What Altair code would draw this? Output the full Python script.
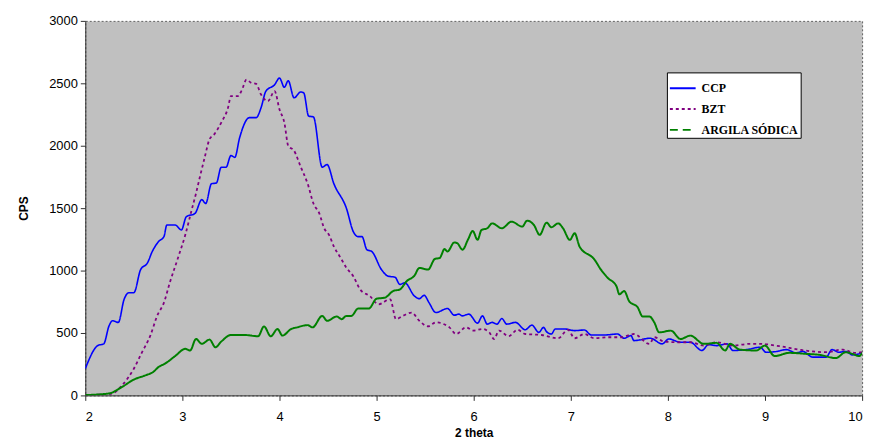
import altair as alt
import pandas as pd

SERIES = ["CCP", "BZT", "ARGILA SÓDICA"]
COLORS = ["#0000FF", "#800080", "#008000"]

ccp_x = [2.0, 2.13, 2.19, 2.245, 2.28, 2.34, 2.40, 2.45, 2.50, 2.57,
         2.64, 2.69, 2.755, 2.81, 2.84, 2.925, 2.99, 3.04, 3.13, 3.20,
         3.24, 3.30, 3.35, 3.40, 3.45, 3.50, 3.54, 3.59, 3.69, 3.76,
         3.81, 3.86, 3.95, 4.00, 4.05, 4.09, 4.15, 4.22, 4.25, 4.30,
         4.35, 4.44, 4.49, 4.56, 4.69, 4.76, 4.81, 4.85, 4.90, 4.95,
         5.05, 5.12, 5.19, 5.24, 5.29, 5.39, 5.44, 5.49, 5.54, 5.61,
         5.73, 5.80, 5.85, 5.88, 5.95, 6.04, 6.09, 6.14, 6.19, 6.24,
         6.29, 6.34, 6.43, 6.53, 6.60, 6.67, 6.72, 6.75, 6.80, 6.84,
         6.94, 7.04, 7.14, 7.21, 7.35, 7.48, 7.55, 7.62, 7.65, 7.82,
         7.94, 8.01, 8.13, 8.23, 8.35, 8.42, 8.50, 8.61, 8.67, 8.81,
         8.95, 9.01, 9.12, 9.22, 9.32, 9.39, 9.49, 9.63, 9.69, 9.76,
         9.83, 9.90, 10.0]
ccp_y = [214, 400, 413, 558, 598, 585, 770, 823, 823, 1008,
         1061, 1153, 1233, 1272, 1365, 1365, 1325, 1431, 1458, 1568,
         1537, 1696, 1701, 1828, 1828, 1921, 1907, 2066, 2225, 2225,
         2304, 2437, 2489, 2542, 2468, 2521, 2384, 2431, 2423, 2238,
         2230, 1828, 1849, 1696, 1497, 1312, 1272, 1272, 1167, 1153,
         1008, 955, 947, 889, 902, 796, 775, 802, 743, 664,
         696, 643, 651, 637, 651, 579, 637, 571, 585, 571,
         616, 571, 585, 526, 563, 505, 545, 511, 492, 532,
         532, 519, 524, 484, 484, 492, 458, 479, 439, 458,
         413, 452, 426, 426, 360, 407, 399, 413, 360, 367,
         386, 346, 352, 367, 341, 352, 307, 307, 367, 346,
         352, 325, 341]

bzt_x = [2.0, 2.1, 2.2, 2.28, 2.38, 2.50, 2.585, 2.67, 2.74, 2.81,
         2.87, 2.96, 3.03, 3.095, 3.14, 3.18, 3.23, 3.28, 3.33, 3.40,
         3.47, 3.50, 3.57, 3.61, 3.66, 3.71, 3.76, 3.81, 3.88, 3.95,
         4.00, 4.05, 4.09, 4.15, 4.22, 4.29, 4.35, 4.41, 4.46, 4.51,
         4.56, 4.63, 4.69, 4.76, 4.83, 4.93, 5.02, 5.14, 5.20, 5.27,
         5.36, 5.44, 5.53, 5.61, 5.75, 5.82, 5.92, 6.00, 6.09, 6.16,
         6.21, 6.26, 6.36, 6.45, 6.53, 6.70, 6.87, 6.97, 7.04, 7.14,
         7.24, 7.38, 7.52, 7.65, 7.81, 7.86, 7.96, 8.09, 8.23, 8.37,
         8.50, 8.67, 8.84, 8.95, 9.15, 9.35, 9.49, 9.63, 9.80, 9.93,
         10.0]
bzt_y = [0, 5, 10, 16, 82, 214, 347, 479, 637, 743,
         902, 1114, 1286, 1484, 1617, 1749, 1907, 2053, 2093, 2185,
         2304, 2397, 2397, 2441, 2529, 2503, 2495, 2410, 2357, 2437,
         2291, 2185, 2000, 1960, 1828, 1696, 1537, 1458, 1339, 1286,
         1193, 1101, 1021, 955, 849, 796, 730, 770, 611, 637,
         664, 598, 553, 585, 545, 492, 545, 519, 532, 505,
         452, 519, 474, 526, 492, 484, 458, 526, 458, 492,
         458, 466, 466, 492, 413, 466, 431, 426, 426, 399,
         426, 399, 413, 413, 394, 367, 352, 346, 367, 341,
         346]

arg_x = [2.0, 2.245, 2.38, 2.50, 2.62, 2.70, 2.755, 2.82, 2.925, 3.03,
         3.08, 3.14, 3.20, 3.28, 3.34, 3.40, 3.50, 3.64, 3.78, 3.84,
         3.91, 3.98, 4.03, 4.12, 4.18, 4.29, 4.34, 4.44, 4.49, 4.59,
         4.64, 4.69, 4.74, 4.81, 4.92, 5.00, 5.085, 5.17, 5.24, 5.31,
         5.39, 5.44, 5.53, 5.60, 5.65, 5.70, 5.73, 5.80, 5.83, 5.885,
         5.94, 5.99, 6.04, 6.08, 6.14, 6.19, 6.29, 6.39, 6.50, 6.55,
         6.62, 6.68, 6.75, 6.80, 6.87, 6.92, 6.99, 7.04, 7.09, 7.245,
         7.31, 7.38, 7.47, 7.50, 7.55, 7.60, 7.69, 7.74, 7.81, 7.86,
         7.91, 8.03, 8.13, 8.23, 8.37, 8.50, 8.59, 8.64, 8.74, 8.91,
         9.00, 9.10, 9.25, 9.42, 9.56, 9.73, 9.83, 9.90, 9.97, 10.0]
arg_y = [3, 16, 69, 127, 161, 188, 228, 254, 315, 373,
         360, 452, 413, 447, 386, 431, 484, 484, 474, 553,
         474, 532, 479, 532, 545, 563, 545, 637, 598, 632,
         611, 637, 637, 696, 696, 775, 783, 836, 849, 915,
         960, 1021, 1008, 1093, 1101, 1172, 1153, 1225, 1220, 1167,
         1246, 1317, 1246, 1325, 1339, 1378, 1339, 1392, 1352, 1400,
         1365, 1286, 1384, 1347, 1378, 1339, 1246, 1299, 1193, 1087,
         1008, 942, 875, 810, 836, 756, 704, 632, 632, 585,
         505, 519, 452, 479, 413, 421, 360, 413, 367, 360,
         399, 315, 341, 333, 325, 299, 346, 333, 315, 341]

X_TICKS = [2, 3, 4, 5, 6, 7, 8, 9, 10]
Y_TICKS = [0, 500, 1000, 1500, 2000, 2500, 3000]

rows = []
for name, xs, ys in [(SERIES[0], ccp_x, ccp_y), (SERIES[1], bzt_x, bzt_y), (SERIES[2], arg_x, arg_y)]:
    assert len(xs) == len(ys)
    for i, (a, b) in enumerate(zip(xs, ys)):
        rows.append({"x": a, "y": b, "series": name, "label": name, "order": i})
df = pd.DataFrame(rows)

x_enc = alt.X("x:Q", scale=alt.Scale(domain=[2, 10], nice=False),
              axis=alt.Axis(values=X_TICKS, format="d", title="2 theta",
                            labelPadding=10, titlePadding=4))
y_enc = alt.Y("y:Q", scale=alt.Scale(domain=[0, 3000], nice=False),
              axis=alt.Axis(values=Y_TICKS, format="d", title="CPS", titlePadding=18))

lines = alt.Chart(df).mark_line(interpolate="monotone", clip=True).encode(
    x=x_enc, y=y_enc,
    order="order:Q",
    color=alt.Color("series:N", scale=alt.Scale(domain=SERIES, range=COLORS), legend=None),
    strokeDash=alt.StrokeDash("series:N", scale=alt.Scale(domain=SERIES, range=[[1, 0], [3, 3], [1, 0]]), legend=None),
    strokeWidth=alt.StrokeWidth("series:N", scale=alt.Scale(domain=SERIES, range=[1.6, 2, 1.5]), legend=None),
)

legend_layer = alt.Chart(df).transform_filter("datum.y < -100000").mark_line(strokeWidth=2).encode(
    x=x_enc, y=y_enc,
    color=alt.Color("label:N", scale=alt.Scale(domain=SERIES, range=COLORS),
                    legend=alt.Legend(title=None, orient="none", legendX=587, legendY=52,
                                      symbolType="stroke", symbolSize=676, symbolStrokeWidth=2,
                                      fillColor="white", strokeColor="black", padding=2,
                                      rowPadding=1, labelOffset=5,
                                      labelFont="Liberation Serif", labelFontWeight="bold",
                                      labelFontSize=12, labelColor="black", labelLimit=200)),
    strokeDash=alt.StrokeDash("label:N", scale=alt.Scale(domain=SERIES, range=[[1, 0], [3, 3], [8, 5]]),
                              legend=alt.Legend(title=None, orient="none", legendX=587, legendY=52)),
)

chart = alt.layer(lines, legend_layer).resolve_scale(
    color="independent", strokeDash="independent", strokeWidth="independent"
).properties(
    width=784, height=378,
    background="white",
    autosize=alt.AutoSizeParams(type="none"),
    padding={"left": 78, "top": 11, "right": 11, "bottom": 44},
).configure_view(
    fill="#C0C0C0", stroke="#606060", strokeDash=[2, 2], strokeWidth=1
).configure_axis(
    grid=False, labelFont="Liberation Sans", labelFontSize=13, labelColor="black",
    titleFont="Liberation Sans", titleFontSize=12, titleFontWeight="bold", titleColor="black",
    domainColor="#303030", tickColor="#303030", tickSize=5, labelPadding=3,
)

chart.save("out.html", embed_options={"renderer": "svg", "actions": False})
